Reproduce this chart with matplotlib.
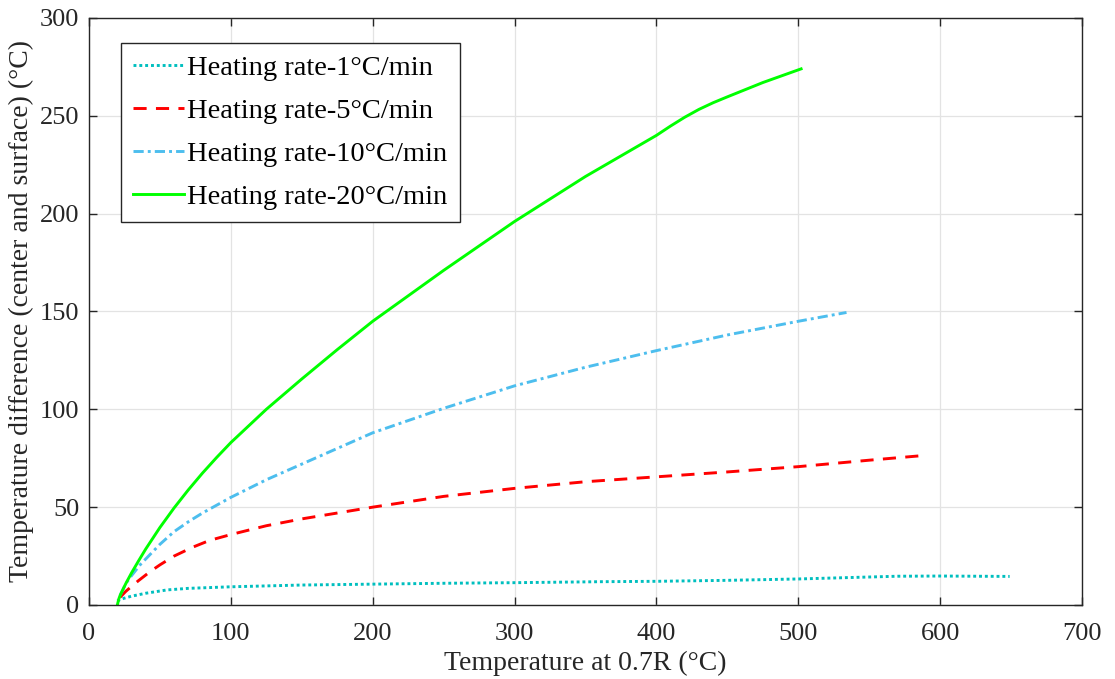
import matplotlib
matplotlib.use("Agg")
import matplotlib.pyplot as plt

plt.rcParams['font.family'] = ['Liberation Serif', 'DejaVu Serif']

# Heating rate 1 °C/min
x_r1 = [20, 22, 25, 30, 40, 55, 70, 100, 150, 205, 250, 300, 360, 400, 450,
        500, 540, 570, 600, 649]
y_r1 = [2, 2.8, 3.5, 4.5, 6, 7.7, 8.5, 9.3, 10.2, 10.7, 11.1, 11.4, 11.9, 12.1, 12.6,
        13.3, 14.1, 14.7, 14.8, 14.6]

# Heating rate 5 °C/min
x_r5 = [22, 26, 30, 35, 43, 50, 60, 73, 85, 100, 125, 150, 175, 200, 250,
        300, 350, 400, 450, 500, 550, 590]
y_r5 = [4, 7, 9.5, 12.5, 17, 20.5, 25, 29.5, 33, 36, 40.5, 44, 47, 50, 55.5,
        59.6, 63, 65.5, 68, 70.7, 74, 76.5]

# Heating rate 10 °C/min
x_r10 = [22, 26, 30, 36, 40, 50, 60, 70, 80, 90, 100, 125, 150, 175, 200,
         250, 300, 350, 400, 450, 500, 534]
y_r10 = [5, 11, 15, 20.5, 23.5, 31, 37.5, 42.5, 47, 51, 55, 64, 72, 80, 88,
         100.5, 112, 121.5, 130, 138, 145, 149.5]

# Heating rate 20 °C/min
x_r20 = [20, 21, 22, 24, 26, 30, 35, 40, 50, 60, 70, 80, 90, 100, 125, 150,
         175, 200, 250, 300, 350, 375, 400, 410, 420, 430, 440, 450, 475, 502]
y_r20 = [0, 3, 5, 8, 11, 16.4, 22.6, 28.6, 39.6, 49.6, 58.8, 67.4, 75.4, 83, 100, 115.5,
         130.5, 145, 171, 196, 219, 229.5, 240, 244.8, 249.3, 253.3, 256.7, 259.7, 267, 274]

labels = ['Heating rate-1°C/min', 'Heating rate-5°C/min',
          'Heating rate-10°C/min', 'Heating rate-20°C/min']
x_ticks = [0, 100, 200, 300, 400, 500, 600, 700]
y_ticks = [0, 50, 100, 150, 200, 250, 300]

fig = plt.figure(figsize=(11.15, 6.79), dpi=100)
ax = fig.add_axes([0.0798, 0.109, 0.8906, 0.8645])

lw = 2.1
ax.plot(x_r1, y_r1, color='#00BFBF', lw=lw, linestyle=(0, (1, 1)), label=labels[0])
ax.plot(x_r5, y_r5, color='#FF0000', lw=lw, linestyle=(0, (4.5, 3.2)), label=labels[1])
ax.plot(x_r10, y_r10, color='#4DBEEE', lw=lw, linestyle=(0, (3.5, 1.4, 1, 1.4)), label=labels[2])
ax.plot(x_r20, y_r20, color='#00FF00', lw=lw, linestyle='-', label=labels[3])

ax.set_xlim(0, 700)
ax.set_ylim(0, 300)
ax.set_xticks(x_ticks)
ax.set_yticks(y_ticks)
ax.grid(True, color='#E3E3E3', lw=0.9)
ax.set_axisbelow(True)

axis_col = '#262626'
for s in ax.spines.values():
    s.set_color(axis_col)
    s.set_linewidth(1.0)
ax.tick_params(direction='in', length=6, width=1.0, colors=axis_col,
               labelsize=19, labelcolor='#262626', top=True, right=True,
               pad=7)
ax.tick_params(axis='x', pad=13)

ax.set_xlabel('Temperature at 0.7R (°C)', fontsize=20, color='#262626', labelpad=4)
ax.set_ylabel('Temperature difference (center and surface) (°C)', fontsize=20,
              color='#262626', labelpad=4)

leg = ax.legend(loc='upper left', bbox_to_anchor=(0.032, 0.957), borderaxespad=0,
                fontsize=20.5, frameon=True, fancybox=False, handlelength=1.8,
                handletextpad=0.12, labelspacing=0.6, borderpad=0.42)
leg.get_frame().set_edgecolor(axis_col)
leg.get_frame().set_linewidth(1.0)
leg.get_frame().set_alpha(1.0)

fig.savefig('out.png', dpi=100, facecolor='white')
